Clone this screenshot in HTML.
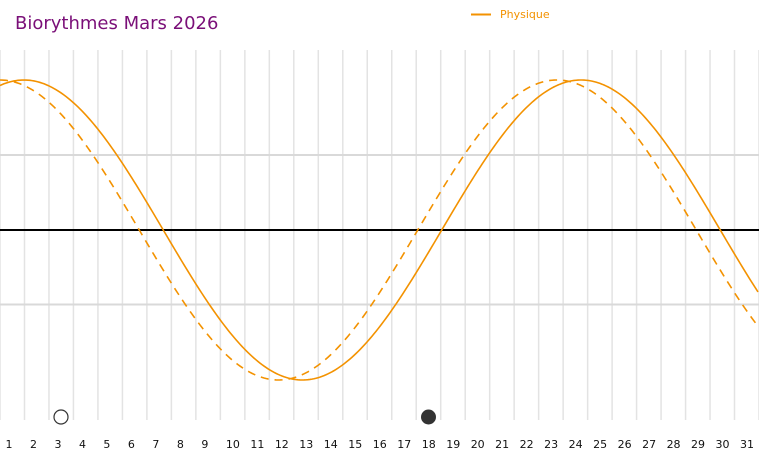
<!DOCTYPE html>
<html><head><meta charset="utf-8"><style>
html,body{margin:0;padding:0;background:#fff;}
svg{display:block;font-family:"DejaVu Sans","Liberation Sans",sans-serif;}
</style></head><body>
<svg id="s" width="759" height="460" xmlns="http://www.w3.org/2000/svg">
<text x="15" y="29" font-size="18" fill="#7a0f78">Biorythmes Mars 2026</text>
<line x1="471" y1="14.5" x2="491" y2="14.5" stroke="#f39200" stroke-width="2"/>
<text x="500" y="18" font-size="11" fill="#f39200">Physique</text>
<g id="grid"></g>
<line x1="0" y1="155" x2="759" y2="155" stroke="#d9d9d9" stroke-width="2"/>
<line x1="0" y1="304.5" x2="759" y2="304.5" stroke="#d9d9d9" stroke-width="2"/>
<line x1="0" y1="230" x2="759" y2="230" stroke="#000" stroke-width="2"/>
<path id="dash" fill="none" stroke="#f39200" stroke-width="1.6" stroke-dasharray="8,6"/>
<path id="solid" fill="none" stroke="#f39200" stroke-width="1.6"/>
<circle cx="61" cy="417" r="7" fill="#fff" stroke="#333" stroke-width="1.2"/>
<circle cx="428.5" cy="417" r="7.5" fill="#333"/>
<g id="labels" font-size="11" fill="#111"></g>
</svg>
<script>
var ns="http://www.w3.org/2000/svg",w=24.484;
var g=document.getElementById('grid'),L=document.getElementById('labels');
for(var k=0;k<=31;k++){var l=document.createElementNS(ns,'line');var x=k*w;
l.setAttribute('x1',x);l.setAttribute('x2',x);l.setAttribute('y1',50);l.setAttribute('y2',420);
l.setAttribute('stroke','#e3e3e3');l.setAttribute('stroke-width','1.5');g.appendChild(l);}
for(var i=1;i<=31;i++){var t=document.createElementNS(ns,'text');t.setAttribute('x',(i-1)*w+5.5);t.setAttribute('y',448);t.textContent=i;L.appendChild(t);}
function p(peak){var d='';for(var x=0;x<=759;x+=2){var y=230-150*Math.cos(2*Math.PI*(x-peak)/557);d+=(x?'L':'M')+x+' '+y.toFixed(2);}return d;}
document.getElementById('solid').setAttribute('d',p(24));
document.getElementById('dash').setAttribute('d',p(0));
</script>
</body></html>
